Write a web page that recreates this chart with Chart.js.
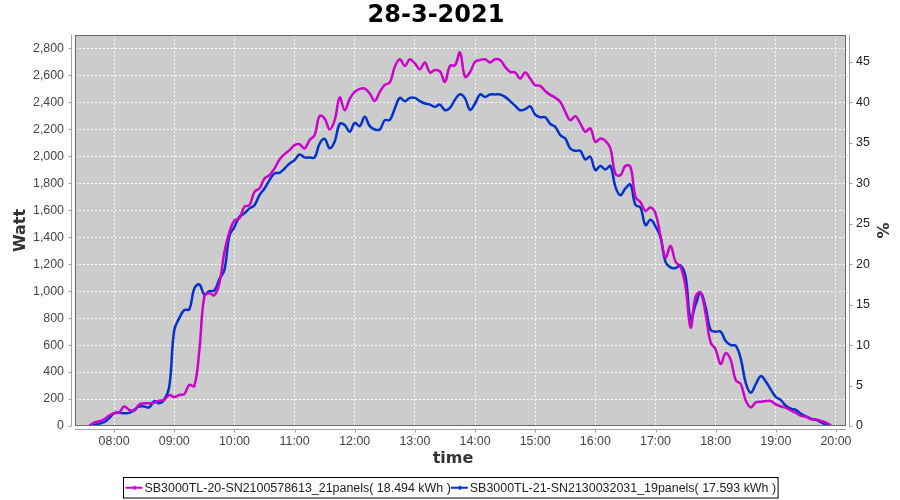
<!DOCTYPE html>
<html><head><meta charset="utf-8">
<script src="https://cdn.jsdelivr.net/npm/chart.js@4.4.0/dist/chart.umd.min.js"></script>
<style>html,body{margin:0;padding:0;background:#fff}</style>
</head><body>
<canvas id="c" width="900" height="500"></canvas>
<script>
const times = [
 '07:35','07:40','07:45','07:50','07:55',
 '08:00','08:05','08:10','08:15','08:20','08:25','08:30','08:35','08:40','08:45','08:50','08:55',
 '09:00','09:05','09:10','09:15','09:20','09:25','09:30','09:35','09:40','09:45','09:50','09:55',
 '10:00','10:05','10:10','10:15','10:20','10:25','10:30','10:35','10:40','10:45','10:50','10:55',
 '11:00','11:05','11:10','11:15','11:20','11:25','11:30','11:35','11:40','11:45','11:50','11:55',
 '12:00','12:05','12:10','12:15','12:20','12:25','12:30','12:35','12:40','12:45','12:50','12:55',
 '13:00','13:05','13:10','13:15','13:20','13:25','13:30','13:35','13:40','13:45','13:50','13:55',
 '14:00','14:05','14:10','14:15','14:20','14:25','14:30','14:35','14:40','14:45','14:50','14:55',
 '15:00','15:05','15:10','15:15','15:20','15:25','15:30','15:35','15:40','15:45','15:50','15:55',
 '16:00','16:05','16:10','16:15','16:20','16:25','16:30','16:35','16:40','16:45','16:50','16:55',
 '17:00','17:05','17:10','17:15','17:20','17:25','17:30','17:35','17:40','17:45','17:50','17:55',
 '18:00','18:05','18:10','18:15','18:20','18:25','18:30','18:35','18:40','18:45','18:50','18:55',
 '19:00','19:05','19:10','19:15','19:20','19:25','19:30','19:35','19:40','19:45','19:50','19:55'
];
const inverter20 = [
 0, 25, 35, 50, 78,
 95, 100, 145, 120, 112, 160, 168, 168, 172, 188, 193, 230,
 215, 230, 237, 305, 296, 560, 960, 985, 970, 1058, 1290, 1440,
 1525, 1540, 1626, 1638, 1737, 1762, 1836, 1861, 1910, 1977, 2016, 2046,
 2083, 2090, 2058, 2122, 2157, 2300, 2280, 2200, 2268, 2436, 2342, 2426,
 2478, 2500, 2503, 2466, 2411, 2478, 2530, 2548, 2664, 2720, 2671, 2720,
 2689, 2646, 2696, 2622, 2640, 2630, 2552, 2671, 2676, 2770, 2590, 2625,
 2701, 2715, 2720, 2696, 2720, 2715, 2664, 2627, 2622, 2577, 2622, 2577,
 2528, 2523, 2485, 2456, 2435, 2404, 2330, 2268, 2298, 2244, 2182, 2207,
 2108, 2132, 2115, 2060, 1870, 1860, 1930, 1922, 1700, 1660, 1596, 1621,
 1577, 1410, 1250, 1335, 1218, 1181, 1030, 730, 960, 990, 830, 620,
 568, 460, 540, 490, 340, 311, 190, 138, 175, 180, 185, 185,
 160, 145, 135, 115, 98, 75, 69, 50, 48, 38, 25, 5
];
const inverter21 = [
 0, 8, 18, 28, 57,
 95, 99, 95, 97, 120, 145, 145, 138, 185, 168, 195, 290,
 712, 800, 860, 865, 1020, 1050, 975, 1000, 1005, 1090, 1156, 1410,
 1477, 1552, 1577, 1614, 1638, 1712, 1762, 1824, 1873, 1878, 1910, 1947,
 1972, 2014, 1992, 1992, 1992, 2095, 2130, 2060, 2110, 2240, 2232, 2182,
 2248, 2224, 2293, 2224, 2199, 2199, 2268, 2270, 2355, 2434, 2409, 2434,
 2434, 2409, 2392, 2384, 2367, 2384, 2342, 2360, 2420, 2460, 2430, 2345,
 2392, 2459, 2441, 2459, 2459, 2459, 2441, 2409, 2375, 2342, 2350, 2370,
 2310, 2290, 2290, 2240, 2219, 2157, 2132, 2058, 2041, 2041, 1977, 1997,
 1898, 1928, 1903, 1928, 1774, 1712, 1762, 1790, 1640, 1621, 1490, 1530,
 1480, 1400, 1215, 1176, 1172, 1190, 1107, 790, 900, 988, 880, 712,
 700, 700, 630, 600, 595, 500, 320, 247, 310, 370, 330, 270,
 215, 192, 150, 128, 120, 90, 72, 55, 45, 28, 10, 2
];
const seriesLabels = [
 'SB3000TL-20-SN2100578613_21panels( 18.494 kWh )',
 'SB3000TL-21-SN2130032031_19panels( 17.593 kWh )'
];
const seriesColors = ['#cc00cc', '#0033cc'];
const hourTicks = ['08:00','09:00','10:00','11:00','12:00','13:00','14:00','15:00','16:00','17:00','18:00','19:00','20:00'];
const wattTicks = [0,200,400,600,800,1000,1200,1400,1600,1800,2000,2200,2400,2600,2800];
const pctTicks = [0,5,10,15,20,25,30,35,40,45];
const timeRange = ['07:21','20:10'];
const wattMax = 2900;
const pctMax = 48.333;
const xAxisTitle = 'time';

const toMin = s => { const p = s.split(':'); return (+p[0])*60 + (+p[1]); };
const fmtTime = v => { const h = Math.floor(v/60), m = Math.round(v - h*60); return String(h).padStart(2,'0') + ':' + String(m).padStart(2,'0'); };

const tickFont = {family: 'Liberation Sans', size: 12.4};
const axisTitleFont = {family: 'DejaVu Sans', size: 16, weight: 'bold'};
const gridColor = 'rgba(255,255,255,0.9)';

const decor = {
  id: 'decor',
  beforeDraw(chart) {
    const {ctx, chartArea: a} = chart;
    ctx.save();
    ctx.fillStyle = '#cccccc';
    ctx.fillRect(a.left, a.top, a.right - a.left, a.bottom - a.top);
    ctx.restore();
  },
  afterDraw(chart) {
    const {ctx, chartArea: a, scales} = chart;
    ctx.save();
    ctx.strokeStyle = '#6a6a6a';
    ctx.lineWidth = 1;
    ctx.strokeRect(a.left + 0.5, a.top + 0.5, a.right - a.left - 1, a.bottom - a.top - 1);
    ctx.strokeStyle = '#a0a0a0';
    ctx.beginPath();
    const lx = Math.round(a.left) - 3.5;
    ctx.moveTo(lx, a.top); ctx.lineTo(lx, a.bottom);
    scales.y.ticks.forEach(t => { const y = Math.round(scales.y.getPixelForValue(t.value)) + 0.5; ctx.moveTo(lx - 3, y); ctx.lineTo(lx, y); });
    const rx = Math.round(a.right) + 3.5;
    ctx.moveTo(rx, a.top); ctx.lineTo(rx, a.bottom);
    scales.y2.ticks.forEach(t => { const y = Math.round(scales.y2.getPixelForValue(t.value)) + 0.5; ctx.moveTo(rx, y); ctx.lineTo(rx + 3, y); });
    const by = Math.round(a.bottom) + 3.5;
    ctx.moveTo(a.left, by); ctx.lineTo(a.right, by);
    scales.x.ticks.forEach(t => { const x = Math.round(scales.x.getPixelForValue(t.value)) + 0.5; ctx.moveTo(x, by); ctx.lineTo(x, by + 3); });
    ctx.stroke();

    // x axis title
    ctx.font = 'bold 16px "DejaVu Sans"';
    ctx.fillStyle = '#333';
    ctx.textAlign = 'center';
    ctx.textBaseline = 'middle';
    ctx.fillText(xAxisTitle, 453, 458.5);

    // legend
    ctx.textAlign = 'left';
    ctx.font = '12.45px "Liberation Sans"';
    const items = chart.data.datasets.map(d => ({label: d.label, color: d.borderColor, w: ctx.measureText(d.label).width}));
    const markerW = 18, gap = 1, pad = 2;
    const total = items.reduce((s, it) => s + markerW + gap + it.w, 0) + pad * 2;
    const left = Math.round(450 - total / 2) + 0.5;
    const top = 477.5, h = 20.5;
    ctx.strokeStyle = '#000';
    ctx.lineWidth = 1;
    ctx.strokeRect(left, top, total, h);
    let x = left + pad;
    const cy = top + h / 2;
    items.forEach(it => {
      ctx.strokeStyle = it.color;
      ctx.lineWidth = 2;
      ctx.beginPath(); ctx.moveTo(x, cy); ctx.lineTo(x + markerW - 1, cy); ctx.stroke();
      ctx.fillStyle = it.color;
      ctx.fillRect(x + markerW / 2 - 1, cy - 2, 2, 4);
      ctx.fillStyle = '#222';
      ctx.fillText(it.label, x + markerW + gap, cy + 0.5);
      x += markerW + gap + it.w;
    });
    ctx.restore();
  }
};

const mk = (vals) => times.map((t, i) => ({x: toMin(t), y: vals[i]}));

new Chart(document.getElementById('c'), {
  type: 'line',
  data: {
    datasets: [
      {label: seriesLabels[0], data: mk(inverter20), borderColor: seriesColors[0], backgroundColor: seriesColors[0], borderWidth: 2.5, pointRadius: 0, tension: 0.4, fill: false, yAxisID: 'y'},
      {label: seriesLabels[1], data: mk(inverter21), borderColor: seriesColors[1], backgroundColor: seriesColors[1], borderWidth: 2.5, pointRadius: 0, tension: 0.4, fill: false, yAxisID: 'y'}
    ]
  },
  options: {
    responsive: false,
    animation: false,
    devicePixelRatio: 1,
    layout: {padding: {left: 0, right: 28, top: 0, bottom: 28}},
    plugins: {
      legend: {display: false},
      tooltip: {enabled: false},
      title: {display: true, text: '28-3-2021', color: '#000', font: {family: 'DejaVu Sans', size: 24, weight: 'bold'}, padding: {top: 1.5, bottom: 4.7}}
    },
    scales: {
      x: {
        type: 'linear', position: 'bottom',
        min: toMin(timeRange[0]), max: toMin(timeRange[1]),
        afterBuildTicks: s => { s.ticks = hourTicks.map(h => ({value: toMin(h)})); },
        ticks: {callback: v => fmtTime(v), font: tickFont, color: '#444', padding: 8, maxRotation: 0, autoSkip: false},
        grid: {color: gridColor, lineWidth: 1, drawTicks: false},
        border: {display: false, dash: [2, 2]},
        title: {display: false},
        afterFit: s => { s.height = 46; }
      },
      y: {
        type: 'linear', position: 'left', min: 0, max: wattMax,
        afterBuildTicks: s => { s.ticks = wattTicks.map(v => ({value: v})); },
        ticks: {callback: v => v.toLocaleString('en-US'), font: tickFont, color: '#444', padding: 11},
        grid: {color: gridColor, lineWidth: 1, drawTicks: false},
        border: {display: false, dash: [2, 2]},
        title: {display: true, text: 'Watt', color: '#333', font: axisTitleFont, padding: {top: 11, bottom: 0}},
        afterFit: s => { s.width = 75; }
      },
      y2: {
        type: 'linear', position: 'right', min: 0, max: pctMax,
        afterBuildTicks: s => { s.ticks = pctTicks.map(v => ({value: v})); },
        ticks: {callback: v => String(v), font: tickFont, color: '#222', padding: 10},
        grid: {drawOnChartArea: false, drawTicks: false},
        border: {display: false},
        title: {display: true, text: '%', color: '#333', font: axisTitleFont, padding: {top: -18.6, bottom: 0}},
        afterFit: s => { s.width = 26; }
      }
    }
  },
  plugins: [decor]
});
</script>
</body></html>
